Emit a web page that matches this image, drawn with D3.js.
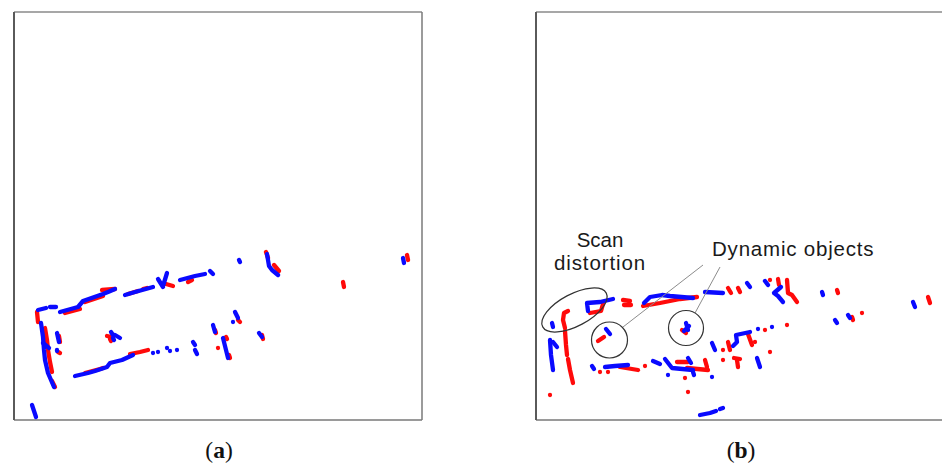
<!DOCTYPE html>
<html>
<head>
<meta charset="utf-8">
<script src="https://cdn.jsdelivr.net/npm/d3@7"></script>
<style>
  html, body { margin: 0; padding: 0; background: #fff; }
  svg { display: block; }
</style>
</head>
<body>
<svg id="chart" width="942" height="465"></svg>
<script>
// Scan strokes in grid units (x to the right, y upward, 0..408 per panel).
// Each entry is one stroke of consecutive scan returns.
const panelLabels = ["a", "b"];

const scanARed = [
  [[23,108],[24,98]],
  [[51,107],[66,111]], [[71,118],[89,124]], [[88,130],[101,131]],
  [[114,126],[124,129]], [[129,131],[133,132]],
  [[152,136],[159,134]], [[174,138],[178,140]],
  [[252,168],[254,162]], [[260,155],[265,149]],
  [[329,138],[330,133]], [[393,165],[394,160]],
  [[31,92],[33,80],[34,70],[36,58],[38,48]], [[38,39],[41,33]],
  [[45,84],[46,78]], [[44,68],[46,67]],
  [[93,84],[98,83]], [[96,81],[97,79]],
  [[71,47],[86,51],[89,52]], [[116,66],[126,68],[134,70]],
  [[204,72],[204,72]],
  [[201,90],[202,87]], [[212,83],[213,81]], [[215,65],[216,62]],
  [[224,100],[226,98]], [[248,85],[249,81]]
];

const scanABlue = [
  [[24,110],[32,112]], [[36,113],[42,113]],
  [[46,108],[64,113],[69,119],[89,126],[94,128],[101,131]],
  [[111,125],[121,128],[139,133]],
  [[144,141],[149,133]], [[153,147],[149,134]],
  [[166,140],[181,144],[191,146]], [[196,149],[199,146]],
  [[225,160],[226,158]],
  [[253,166],[255,154],[258,150],[264,145]],
  [[389,162],[390,157]],
  [[27,97],[29,83],[30,70],[31,60],[34,47],[37,40],[40,33]],
  [[29,77],[35,72]],
  [[43,87],[45,78]], [[43,70],[43,69]],
  [[97,88],[99,85]], [[101,85],[106,82]], [[99,82],[100,80]],
  [[61,44],[74,47],[81,49],[93,53],[96,57],[108,60],[119,65]],
  [[139,67],[139,67]], [[144,68],[144,68]], [[153,72],[153,72]],
  [[156,69],[156,69]], [[163,70],[163,70]],
  [[179,78],[181,75]], [[181,70],[183,66]],
  [[199,95],[201,88]], [[209,82],[214,62]],
  [[221,108],[224,102]], [[219,98],[219,98]], [[245,87],[248,83]],
  [[18,15],[22,3]]
];

const scanBRed = [
  [[87,120],[94,119]], [[88,115],[95,115]],
  [[107,114],[124,117],[144,121],[161,123]],
  [[54,107],[65,109],[67,116]],
  [[32,109],[28,107],[27,100],[29,92]],
  [[29,89],[30,75],[31,65]], [[32,61],[34,50],[37,37]],
  [[14,25],[14,25]],
  [[62,79],[68,83]],
  [[146,90],[150,87]],
  [[64,48],[64,48]], [[72,48],[72,48]],
  [[84,53],[96,51],[102,50]], [[109,54],[109,54]],
  [[141,58],[152,58]], [[151,52],[172,50]], [[169,60],[171,53]],
  [[149,42],[149,42]], [[152,28],[152,28]],
  [[192,132],[195,127]], [[202,132],[204,128]],
  [[242,141],[243,135]], [[234,140],[234,140]],
  [[251,140],[252,127],[256,125],[261,118]],
  [[301,130],[302,127]],
  [[316,103],[317,100]], [[326,107],[326,107]],
  [[392,123],[394,117]],
  [[192,78],[194,70]], [[187,70],[187,70]],
  [[212,86],[216,75]], [[219,78],[219,78]],
  [[229,90],[229,90]], [[251,95],[251,95]],
  [[198,62],[204,61]], [[201,60],[202,53]],
  [[234,68],[234,68]], [[187,60],[187,60]]
];

const scanBBlue = [
  [[16,97],[17,93]],
  [[14,80],[15,65],[17,50]], [[17,78],[21,73]],
  [[52,109],[51,117],[64,118],[77,121]],
  [[108,117],[114,123],[126,125],[134,124],[157,122]],
  [[169,128],[187,127]],
  [[211,137],[214,133]],
  [[70,91],[74,86]],
  [[150,97],[152,90]], [[153,94],[148,89]],
  [[56,54],[58,51]], [[69,53],[79,54],[92,55]],
  [[117,59],[124,56]], [[129,61],[136,52],[157,50]],
  [[152,62],[155,57]], [[157,48],[158,45]],
  [[176,43],[176,43]], [[132,45],[132,45]],
  [[176,77],[179,70]],
  [[214,88],[200,85],[201,78],[197,74]],
  [[222,91],[222,91]], [[236,93],[236,93]],
  [[221,62],[224,53]],
  [[229,139],[232,135]],
  [[245,133],[238,127],[242,124],[247,118]],
  [[286,128],[287,125]],
  [[299,100],[301,97]], [[312,105],[314,102]],
  [[377,118],[379,113]],
  [[164,5],[174,7],[180,9]], [[184,11],[187,12]]
];

// Callouts drawn over panel (b), in the same grid units.
const distortionLabel = ["Scan", "distortion"];
const dynamicLabel = "Dynamic objects";

const svg = d3.select("#chart");
const size = 408;
const frameTop = 12;

const panels = [
  { label: panelLabels[0], left: 14, red: scanARed, blue: scanABlue, rightEdge: true },
  { label: panelLabels[1], left: 536, red: scanBRed, blue: scanBBlue, rightEdge: false }
];

panels.forEach((p, i) => {
  const x = d3.scaleLinear().domain([0, size]).range([p.left, p.left + size]);
  const y = d3.scaleLinear().domain([0, size]).range([frameTop + size, frameTop]);
  const line = d3.line().x(d => x(d[0])).y(d => y(d[1]));

  const g = svg.append("g");

  // frame
  g.append("line").attr("x1", p.left).attr("x2", p.left + size)
    .attr("y1", frameTop).attr("y2", frameTop).attr("stroke", "#8a8a8a").attr("stroke-width", 1.5);
  g.append("line").attr("x1", p.left).attr("x2", p.left + size)
    .attr("y1", frameTop + size).attr("y2", frameTop + size).attr("stroke", "#9a9a9a").attr("stroke-width", 2);
  g.append("line").attr("x1", p.left).attr("x2", p.left)
    .attr("y1", frameTop).attr("y2", frameTop + size).attr("stroke", "#5a5a5a").attr("stroke-width", 2);
  if (p.rightEdge) {
    g.append("line").attr("x1", p.left + size).attr("x2", p.left + size)
      .attr("y1", frameTop).attr("y2", frameTop + size).attr("stroke", "#7a7a7a").attr("stroke-width", 1.5);
  }

  const drawScan = (strokes, color) => {
    g.append("g")
      .selectAll("path")
      .data(strokes)
      .join("path")
      .attr("d", line)
      .attr("fill", "none")
      .attr("stroke", color)
      .attr("stroke-width", 4.3)
      .attr("stroke-linecap", "round")
      .attr("stroke-linejoin", "round");
  };
  drawScan(p.red, "#ff0a0a");
  drawScan(p.blue, "#0a0aff");

  // panel caption
  const cap = svg.append("text")
    .attr("x", p.left + size / 2 + 1)
    .attr("y", 458)
    .attr("text-anchor", "middle")
    .attr("font-family", "'Liberation Serif', 'DejaVu Serif', serif")
    .attr("font-size", 23.5)
    .attr("fill", "#111");
  cap.append("tspan").text("(");
  cap.append("tspan").attr("font-weight", "bold").text(p.label);
  cap.append("tspan").text(")");

  if (i === 1) {
    const ann = svg.append("g");
    const ink = "#333";
    // leader lines
    [[[87, 93], [167, 155]], [[159, 107], [184, 153]]].forEach(seg => {
      ann.append("line")
        .attr("x1", x(seg[0][0])).attr("y1", y(seg[0][1]))
        .attr("x2", x(seg[1][0])).attr("y2", y(seg[1][1]))
        .attr("stroke", "#8c8c8c").attr("stroke-width", 1);
    });
    // distortion ellipse
    ann.append("ellipse")
      .attr("cx", 0).attr("cy", 0)
      .attr("rx", 36).attr("ry", 16)
      .attr("transform", `translate(${x(38.5)},${y(110)}) rotate(-28)`)
      .attr("fill", "none").attr("stroke", ink).attr("stroke-width", 1.2);
    // circles round the moving objects
    [[73.5, 80, 18], [150, 92, 17.5]].forEach(c => {
      ann.append("circle")
        .attr("cx", x(c[0])).attr("cy", y(c[1])).attr("r", c[2])
        .attr("fill", "none").attr("stroke", ink).attr("stroke-width", 1.2);
    });
    const font = "'Liberation Sans', Arial, sans-serif";
    distortionLabel.forEach((t, k) => {
      ann.append("text")
        .attr("x", x(64)).attr("y", y(173) + k * 23.2)
        .attr("text-anchor", "middle")
        .attr("font-family", font).attr("font-size", 20.5)
        .attr("letter-spacing", k === 0 ? 0 : 0.9)
        .attr("fill", "#1a1a1a").text(t);
    });
    ann.append("text")
      .attr("x", x(176)).attr("y", y(164))
      .attr("font-family", font).attr("font-size", 20.5)
      .attr("letter-spacing", 0.8)
      .attr("fill", "#1a1a1a").text(dynamicLabel);
  }
});
</script>
</body>
</html>
